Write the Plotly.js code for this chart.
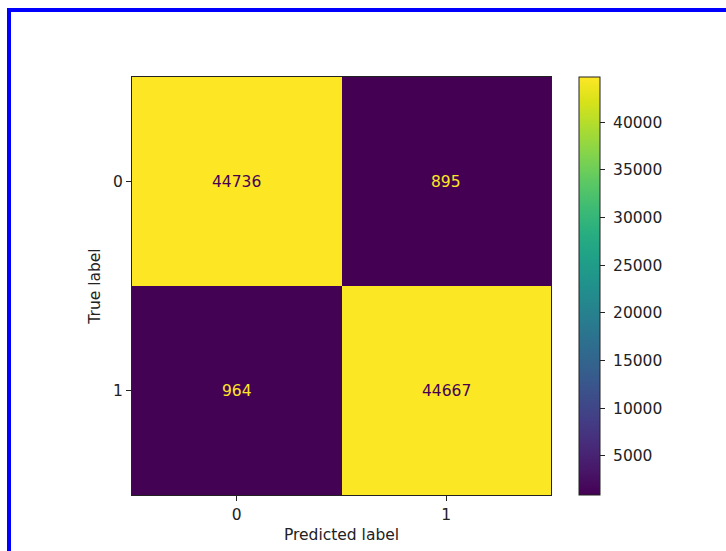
<!DOCTYPE html>
<html>
<head>
<meta charset="utf-8">
<script src="https://cdn.plot.ly/plotly-3.0.1.min.js"></script>
<style>
html,body{margin:0;padding:0;background:#fff;}
#frame{position:absolute;left:7px;top:8px;width:800px;height:600px;border-top:4px solid #0000ff;border-left:4px solid #0000ff;pointer-events:none;z-index:10;}
#chart{position:absolute;left:0;top:0;width:726px;height:551px;}
</style>
</head>
<body>
<div id="chart"></div>
<div id="frame"></div>
<script>
var xLabels = ["0", "1"];
var yLabels = ["0", "1"];
var matrix = [
  [44736, 895],
  [964, 44667]
];
var cbTicks = [5000, 10000, 15000, 20000, 25000, 30000, 35000, 40000];

var zmin = Math.min.apply(null, matrix.map(function(r){return Math.min.apply(null, r);}));
var zmax = Math.max.apply(null, matrix.map(function(r){return Math.max.apply(null, r);}));
var mid = (zmin + zmax) / 2;

var annotations = [];
for (var i = 0; i < yLabels.length; i++) {
  for (var j = 0; j < xLabels.length; j++) {
    var v = matrix[i][j];
    annotations.push({
      x: xLabels[j], y: yLabels[i], xref: 'x', yref: 'y',
      text: String(v), showarrow: false,
      font: {family: 'DejaVu Sans', size: 15.5, color: v > mid ? '#440154' : '#fde725'}
    });
  }
}

var trace = {
  type: 'heatmap',
  x: xLabels, y: yLabels, z: matrix,
  colorscale: 'Viridis', zmin: zmin, zmax: zmax,
  hoverinfo: 'skip',
  colorbar: {
    x: 1.067, xanchor: 'left', xref: 'paper',
    y: 0.5, yanchor: 'middle', len: 1, lenmode: 'fraction',
    thickness: 21, thicknessmode: 'pixels',
    outlinewidth: 1, outlinecolor: '#222',
    tickvals: cbTicks,
    ticktext: cbTicks.map(function(t){ return '\u00a0' + String(t); }),
    ticks: 'outside', ticklen: 5, tickwidth: 1, tickcolor: '#222',
    tickfont: {family: 'DejaVu Sans', size: 15.5, color: '#222'},
    xpad: 0, ypad: 0
  }
};

var axisFont = {family: 'DejaVu Sans', size: 15.5, color: '#222'};
var layout = {
  width: 726, height: 551,
  margin: {l: 132, r: 175, t: 77, b: 56},
  paper_bgcolor: '#fff', plot_bgcolor: '#fff',
  xaxis: {
    type: 'category', showline: true, mirror: true, linecolor: '#222', linewidth: 1,
    ticks: 'outside', ticklen: 5, tickcolor: '#222', tickfont: axisFont,
    showgrid: false, zeroline: false,
    title: {text: 'Predicted label', font: axisFont, standoff: 6}
  },
  yaxis: {
    type: 'category', autorange: 'reversed', showline: true, mirror: true, linecolor: '#222', linewidth: 1,
    ticks: 'outside', ticklen: 5, tickcolor: '#222', tickfont: axisFont,
    showgrid: false, zeroline: false,
    title: {text: 'True label', font: axisFont, standoff: 8}
  },
  annotations: annotations,
  showlegend: false
};

Plotly.newPlot('chart', [trace], layout, {staticPlot: true, displayModeBar: false});
</script>
</body>
</html>
